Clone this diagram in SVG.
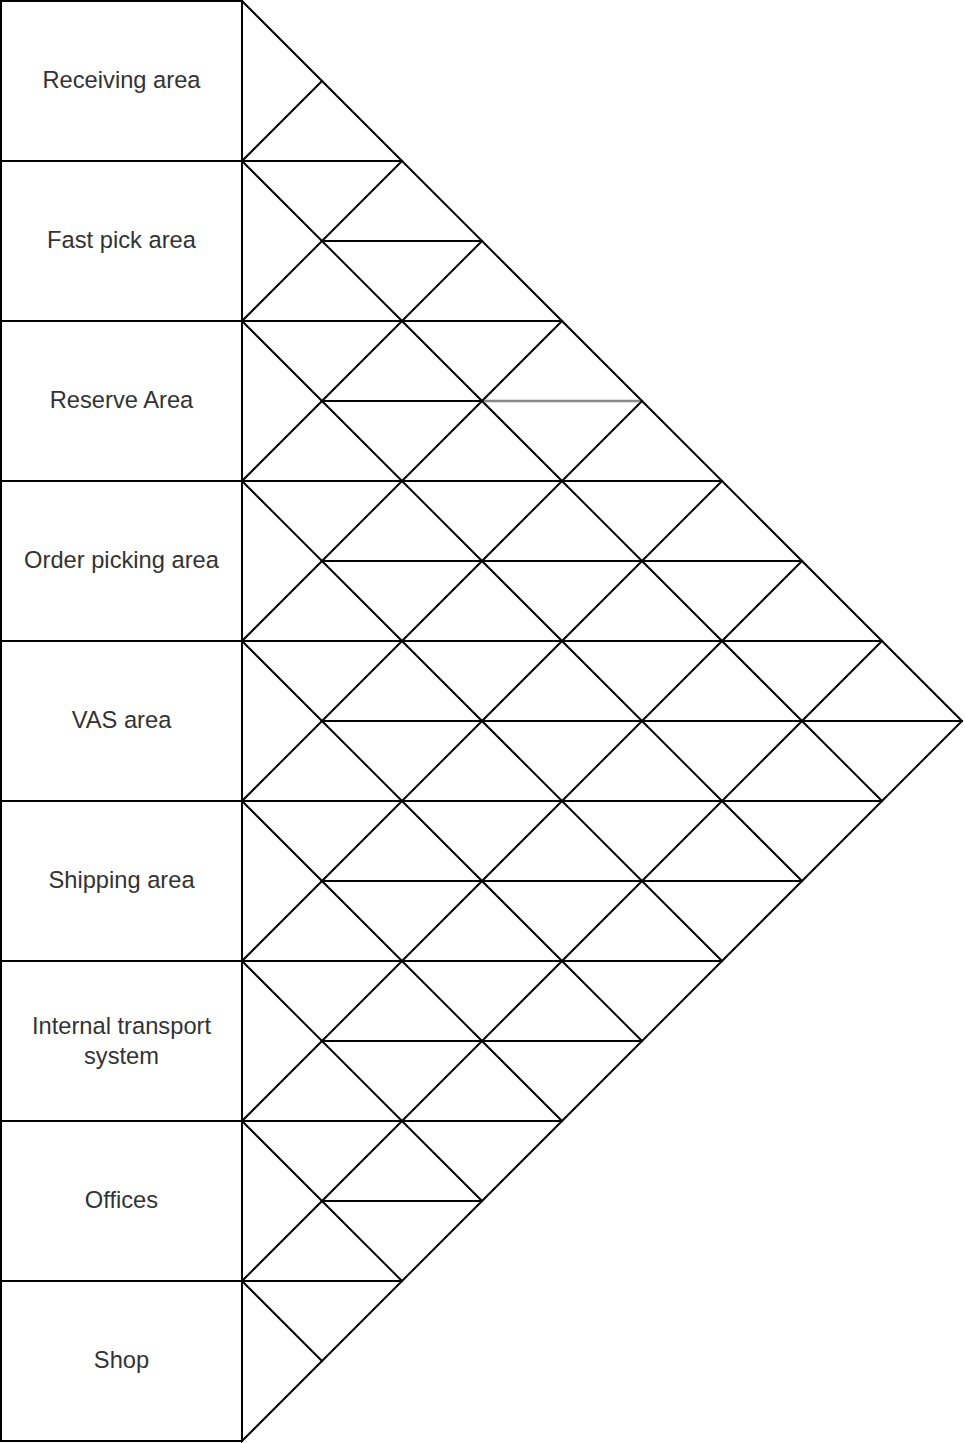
<svg xmlns="http://www.w3.org/2000/svg" width="965" height="1443" viewBox="0 0 965 1443">
<style>
.box{fill:#fff;stroke:#000;stroke-width:2}
.lbl{font-family:"Liberation Sans",Arial,sans-serif;font-size:23.7px;fill:#333;text-anchor:middle}
.ln{stroke:#000;stroke-width:2;fill:none;stroke-linecap:square}
.gr{stroke:#888;stroke-width:2.5;fill:none}
</style>
<rect width="965" height="1443" fill="#fff"/>
<g id="connectors">
<path class="ln" d="M242,1 L962,721 L242,1441 Z"/>
<path class="ln" d="M242,161 L322,81 M242,321 L402,161 M242,481 L482,241 M242,641 L562,321 M242,801 L642,401 M242,961 L722,481 M242,1121 L802,561 M242,1281 L882,641"/>
<path class="ln" d="M242,161 L882,801 M242,321 L802,881 M242,481 L722,961 M242,641 L642,1041 M242,801 L562,1121 M242,961 L482,1201 M242,1121 L402,1281 M242,1281 L322,1361"/>
<path class="ln" d="M242,161 H402 M322,241 H482 M242,321 H562 M322,401 H482 M242,481 H722 M322,561 H802 M242,641 H882 M322,721 H962 M242,801 H882 M322,881 H802 M242,961 H722 M322,1041 H642 M242,1121 H562 M322,1201 H482 M242,1281 H402"/>
<path class="gr" d="M484,401 H640"/>
</g>
<g id="receiving"><rect class="box" x="1" y="1" width="241" height="160"/><text class="lbl" x="121.5" y="88">Receiving area</text></g>
<g id="fastpick"><rect class="box" x="1" y="161" width="241" height="160"/><text class="lbl" x="121.5" y="248">Fast pick area</text></g>
<g id="reserve"><rect class="box" x="1" y="321" width="241" height="160"/><text class="lbl" x="121.5" y="408">Reserve Area</text></g>
<g id="orderpicking"><rect class="box" x="1" y="481" width="241" height="160"/><text class="lbl" x="121.5" y="568">Order picking area</text></g>
<g id="vas"><rect class="box" x="1" y="641" width="241" height="160"/><text class="lbl" x="121.5" y="728">VAS area</text></g>
<g id="shipping"><rect class="box" x="1" y="801" width="241" height="160"/><text class="lbl" x="121.5" y="888">Shipping area</text></g>
<g id="internal"><rect class="box" x="1" y="961" width="241" height="160"/><text class="lbl" x="121.5" y="1034">Internal transport</text><text class="lbl" x="121.5" y="1064">system</text></g>
<g id="offices"><rect class="box" x="1" y="1121" width="241" height="160"/><text class="lbl" x="121.5" y="1208">Offices</text></g>
<g id="shop"><rect class="box" x="1" y="1281" width="241" height="160"/><text class="lbl" x="121.5" y="1368">Shop</text></g>
</svg>
